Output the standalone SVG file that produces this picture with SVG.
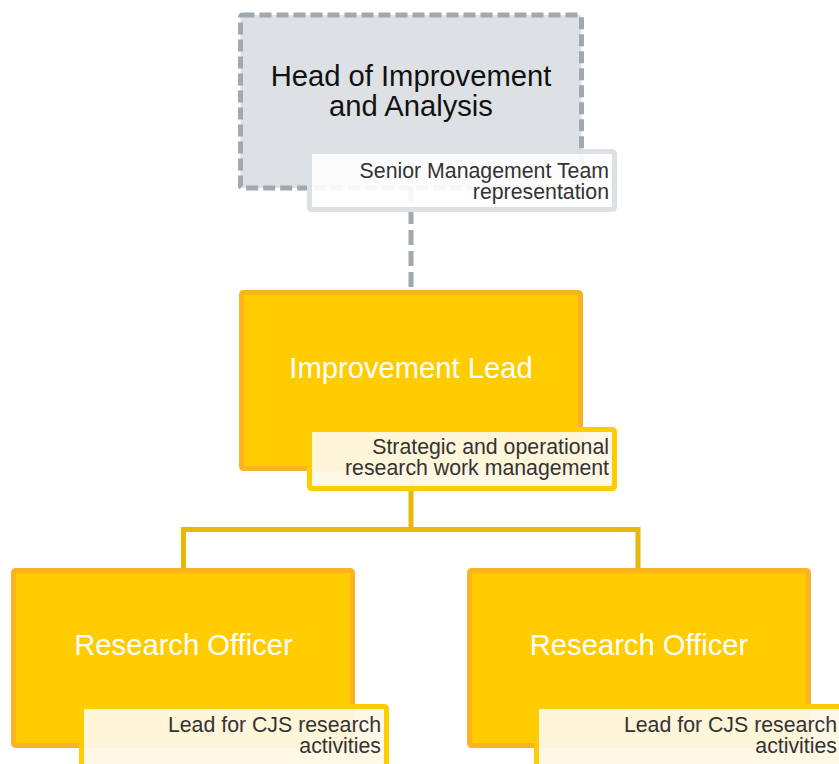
<svg xmlns="http://www.w3.org/2000/svg" width="839" height="764" viewBox="0 0 839 764">
<style>
.title{font-family:"Liberation Sans",Arial,sans-serif;font-size:29.2px;text-anchor:middle}
.sub{font-family:"Liberation Sans",Arial,sans-serif;font-size:21.3px;text-anchor:end;fill:#333333}
.ybox{fill:#ffcc00;stroke:#fbb321;stroke-width:5}
.ylab{fill:#fff8e6;fill-opacity:0.95;stroke:#ffcc00;stroke-width:5}
</style>
<rect width="839" height="764" fill="#ffffff"/>
<g id="connectors">
<line x1="411" y1="188" x2="411" y2="291" stroke="#a0a8b0" stroke-width="5" stroke-dasharray="15,6"/>
<path d="M411 468 V529.5 H183.5 V569 M411 529.5 H638 V569" fill="none" stroke="#e6b80a" stroke-width="5"/>
</g>
<g id="head">
<rect x="240.5" y="15" width="341" height="173" rx="2" fill="#dde1e5" stroke="#a0a8b0" stroke-width="5" stroke-dasharray="12,5"/>
<text class="title" x="411" y="86" fill="#111111">Head of Improvement</text>
<text class="title" x="411" y="116" fill="#111111">and Analysis</text>
<rect x="309.5" y="151.5" width="305" height="58" rx="2" fill="#ffffff" fill-opacity="0.9" stroke="#dde1e5" stroke-width="5"/>
<text class="sub" x="609" y="177.5">Senior Management Team</text>
<text class="sub" x="609" y="199">representation</text>
</g>
<g id="lead">
<rect class="ybox" x="241.5" y="292.5" width="339" height="176" rx="2"/>
<text class="title" x="411" y="378" fill="#ffffff">Improvement Lead</text>
<rect class="ylab" x="309.5" y="429.5" width="305" height="59" rx="2"/>
<text class="sub" x="609" y="454">Strategic and operational</text>
<text class="sub" x="609" y="475">research work management</text>
</g>
<g id="officer1">
<rect class="ybox" x="13.5" y="570.5" width="339" height="175" rx="2"/>
<text class="title" x="183.5" y="655" fill="#ffffff">Research Officer</text>
<rect class="ylab" x="81.5" y="706.5" width="305" height="62" rx="2"/>
<text class="sub" x="381" y="731.5">Lead for CJS research</text>
<text class="sub" x="381" y="753">activities</text>
</g>
<g id="officer2">
<rect class="ybox" x="469.5" y="570.5" width="339" height="175" rx="2"/>
<text class="title" x="639" y="655" fill="#ffffff">Research Officer</text>
<rect class="ylab" x="536.5" y="706.5" width="305" height="62" rx="2"/>
<text class="sub" x="837" y="731.5">Lead for CJS research</text>
<text class="sub" x="837" y="753">activities</text>
</g>
</svg>
